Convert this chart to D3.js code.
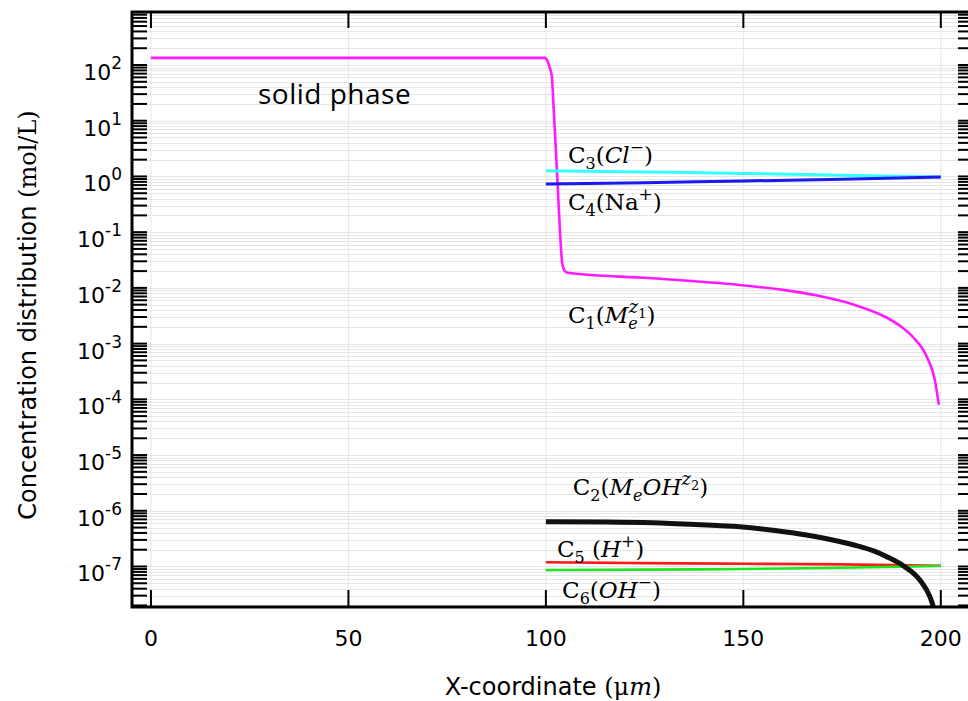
<!DOCTYPE html>
<html>
<head>
<meta charset="utf-8">
<script src="https://cdn.jsdelivr.net/npm/d3@7"></script>
<style>
  body { margin: 0; background: #fff; }
  svg { display: block; }
</style>
</head>
<body>
<div class="chart"></div>
<script>
// values: x in µm, concentrations in mol/L
const xC1 = [0, 25, 50, 75, 99.75, 100.5, 101.0, 101.5, 102.0, 102.5, 103.0, 103.5, 104.1, 104.6, 105.3, 106, 126, 149, 160, 169, 178, 186, 190, 193, 196.5, 198.5, 199.5];
const c1 = [134, 134, 134, 134, 134, 113, 88, 63, 15.5, 3.24, 0.645, 0.129, 0.029, 0.021, 0.0189, 0.0185, 0.015, 0.0113, 0.0092, 0.0072, 0.0050, 0.0030, 0.0020, 0.0013, 5.75e-4, 2.2e-4, 8e-5];

const xC2 = [100, 115, 127, 138, 149, 158, 166, 172, 178, 183, 186.3, 190.4, 194.7, 197.2, 198.0, 198.8];
const c2 = [6.37e-7, 6.3e-7, 6.1e-7, 5.68e-7, 5.18e-7, 4.43e-7, 3.67e-7, 3.05e-7, 2.43e-7, 1.9e-7, 1.5e-7, 1.04e-7, 5.7e-8, 2.9e-8, 2.0e-8, 1.0e-8];

const xIons = [100, 125, 150, 175, 200];
const c3 = [1.27, 1.205, 1.13, 1.05, 0.975];
const c4 = [0.73, 0.77, 0.83, 0.89, 0.975];
const c5 = [1.19e-7, 1.15e-7, 1.12e-7, 1.09e-7, 1.03e-7];
const c6 = [8.6e-8, 8.8e-8, 9.0e-8, 9.5e-8, 1.02e-7];

const xTicks = [0, 50, 100, 150, 200];
const yDecades = [-7, -6, -5, -4, -3, -2, -1, 0, 1, 2];

const w = 968;
const h = 701;
const pLeft = 132, pRight = 972, pTop = 12, pBottom = 607;

const xScale = d3.scaleLinear().domain([-4.8, 207.9]).range([pLeft, pRight]);
const yScale = d3.scaleLog().domain([Math.pow(10, -7.727), Math.pow(10, 2.951)]).range([pBottom, pTop]);

const svg = d3.select(".chart").append("svg").attr("width", w).attr("height", h);

svg.append("defs").append("clipPath").attr("id", "plot")
  .append("rect").attr("x", pLeft).attr("y", pTop).attr("width", pRight - pLeft).attr("height", pBottom - pTop);

// minor/major values for grid and ticks
const minorVals = [];
for (let n = -8; n <= 2; n++) {
  for (let k = 1; k <= 9; k++) {
    const v = k * Math.pow(10, n);
    if (v >= yScale.domain()[0] && v <= yScale.domain()[1]) minorVals.push(v);
  }
}

const grid = svg.append("g").attr("stroke", "#e6e6e6").attr("stroke-width", 1);
grid.selectAll(".hg").data(minorVals).enter().append("line")
  .attr("x1", pLeft).attr("x2", pRight)
  .attr("y1", (d) => Math.round(yScale(d)) + 0.5).attr("y2", (d) => Math.round(yScale(d)) + 0.5);
grid.selectAll(".vg").data(xTicks).enter().append("line")
  .attr("y1", pTop).attr("y2", pBottom)
  .attr("x1", (d) => xScale(d)).attr("x2", (d) => xScale(d));

// y ticks, left and right, pointing inward
const ticks = svg.append("g").attr("stroke", "#000").attr("stroke-width", 2);
ticks.selectAll(".tl").data(minorVals).enter().append("line")
  .attr("x1", pLeft).attr("x2", pLeft + 15)
  .attr("y1", (d) => yScale(d)).attr("y2", (d) => yScale(d));
ticks.selectAll(".tr").data(minorVals).enter().append("line")
  .attr("x1", pRight).attr("x2", pRight - 14)
  .attr("y1", (d) => yScale(d)).attr("y2", (d) => yScale(d));
ticks.selectAll(".tb").data(xTicks).enter().append("line")
  .attr("x1", (d) => xScale(d)).attr("x2", (d) => xScale(d))
  .attr("y1", pBottom).attr("y2", pBottom - 17);
ticks.selectAll(".tt").data(xTicks).enter().append("line")
  .attr("x1", (d) => xScale(d)).attr("x2", (d) => xScale(d))
  .attr("y1", pTop).attr("y2", pTop + 16);

// curves
const plot = svg.append("g").attr("clip-path", "url(#plot)");
const line = d3.line()
  .x((d) => xScale(d[0]))
  .y((d) => yScale(d[1]))
  .curve(d3.curveMonotoneX);

function series(xs, vs) {
  return xs.map((x, i) => [x, vs[i]]);
}

const curves = [
  { data: series(xC1, c1), color: "#ff1aff", width: 2.6 },
  { data: series(xIons, c3), color: "#33ffff", width: 3 },
  { data: series(xIons, c4), color: "#1a1aee", width: 3 },
  { data: series(xIons, c5), color: "#ff1a1a", width: 2.6 },
  { data: series(xIons, c6), color: "#1ee61e", width: 2.6 },
  { data: series(xC2, c2), color: "#111", width: 5 },
];

plot.selectAll("path").data(curves).enter().append("path")
  .attr("d", (d) => line(d.data))
  .attr("fill", "none")
  .attr("stroke", (d) => d.color)
  .attr("stroke-width", (d) => d.width)
  .attr("stroke-linejoin", "round");

// frame
svg.append("path")
  .attr("d", `M${pRight},${pTop}H${pLeft}V${pBottom}H${pRight}`)
  .attr("fill", "none").attr("stroke", "#000").attr("stroke-width", 3);

// tick labels
svg.append("g").selectAll("text").data(xTicks).enter().append("text")
  .attr("x", (d) => xScale(d)).attr("y", 646)
  .attr("text-anchor", "middle")
  .attr("font-family", "DejaVu Sans").attr("font-size", 22)
  .text((d) => d);

const yl = svg.append("g").selectAll("text").data(yDecades).enter().append("text")
  .attr("x", 122).attr("y", (d) => yScale(Math.pow(10, d)) + 15)
  .attr("text-anchor", "end")
  .attr("font-family", "DejaVu Sans").attr("font-size", 22);
yl.append("tspan").text("10");
yl.append("tspan").attr("dy", -11).attr("font-size", 17).text((d) => (d < 0 ? "-" + -d : d));

// axis titles
const xt = svg.append("text").attr("x", 553).attr("y", 695).attr("text-anchor", "middle")
  .attr("font-family", "DejaVu Sans").attr("font-size", 24);
xt.append("tspan").text("X-coordinate ");
xt.append("tspan").attr("font-family", "DejaVu Serif").text("(\u03bc");
xt.append("tspan").attr("font-family", "DejaVu Serif").attr("font-style", "italic").text("m");
xt.append("tspan").attr("font-family", "DejaVu Serif").text(")");

const yt = svg.append("text")
  .attr("transform", "translate(36,315) rotate(-90)")
  .attr("text-anchor", "middle")
  .attr("font-family", "DejaVu Sans").attr("font-size", 24);
yt.append("tspan").text("Concentration distribution ");
yt.append("tspan").attr("font-family", "DejaVu Serif").text("(mol/L)");

// annotations
svg.append("text").attr("x", 258).attr("y", 104)
  .attr("font-family", "Open Sans").attr("font-size", 28).attr("letter-spacing", 0.5)
  .text("solid phase");

const labels = [
  { x: 105.6, y: 163, parts: [["C"], ["3", "sub"], ["("], ["Cl", "it"], ["\u2212", "sup"], [")"]] },
  { x: 105.6, y: 210, parts: [["C"], ["4", "sub"], ["(Na"], ["+", "sup"], [")"]] },
  { x: 105.6, y: 323, parts: [["C"], ["1", "sub"], ["("], ["M", "it"], ["e", "subit"], ["z", "supit", -9], ["1", "supsub"], [")"]] },
  { x: 106.8, y: 495, parts: [["C"], ["2", "sub"], ["("], ["M", "it"], ["e", "subit"], ["OH", "it"], ["z", "supit"], ["2", "supsub"], [")"]] },
  { x: 102.8, y: 557, parts: [["C"], ["5", "sub"], [" ("], ["H", "it"], ["+", "sup"], [")"]] },
  { x: 104.1, y: 598, parts: [["C"], ["6", "sub"], ["("], ["OH", "it"], ["\u2212", "sup"], [")"]] },
];

const shifts = { sub: 6, subit: 6, sup: -10, supit: -10, supsub: -5 };
const sizes = { sub: 16, subit: 16, sup: 17, supit: 18, supsub: 13 };

labels.forEach((lab) => {
  const t = svg.append("text")
    .attr("x", xScale(lab.x)).attr("y", lab.y)
    .attr("font-family", "DejaVu Serif").attr("font-size", 23);
  let cur = 0;
  lab.parts.forEach((p) => {
    const kind = p[1] || "";
    const target = shifts[kind] || 0;
    const sp = t.append("tspan").attr("dy", target - cur).text(p[0]);
    cur = target;
    if (sizes[kind]) sp.attr("font-size", sizes[kind]);
    if (kind === "it" || kind === "subit" || kind === "supit") sp.attr("font-style", "italic");
    if (p[2]) sp.attr("dx", p[2]);
  });
});
</script>
</body>
</html>
